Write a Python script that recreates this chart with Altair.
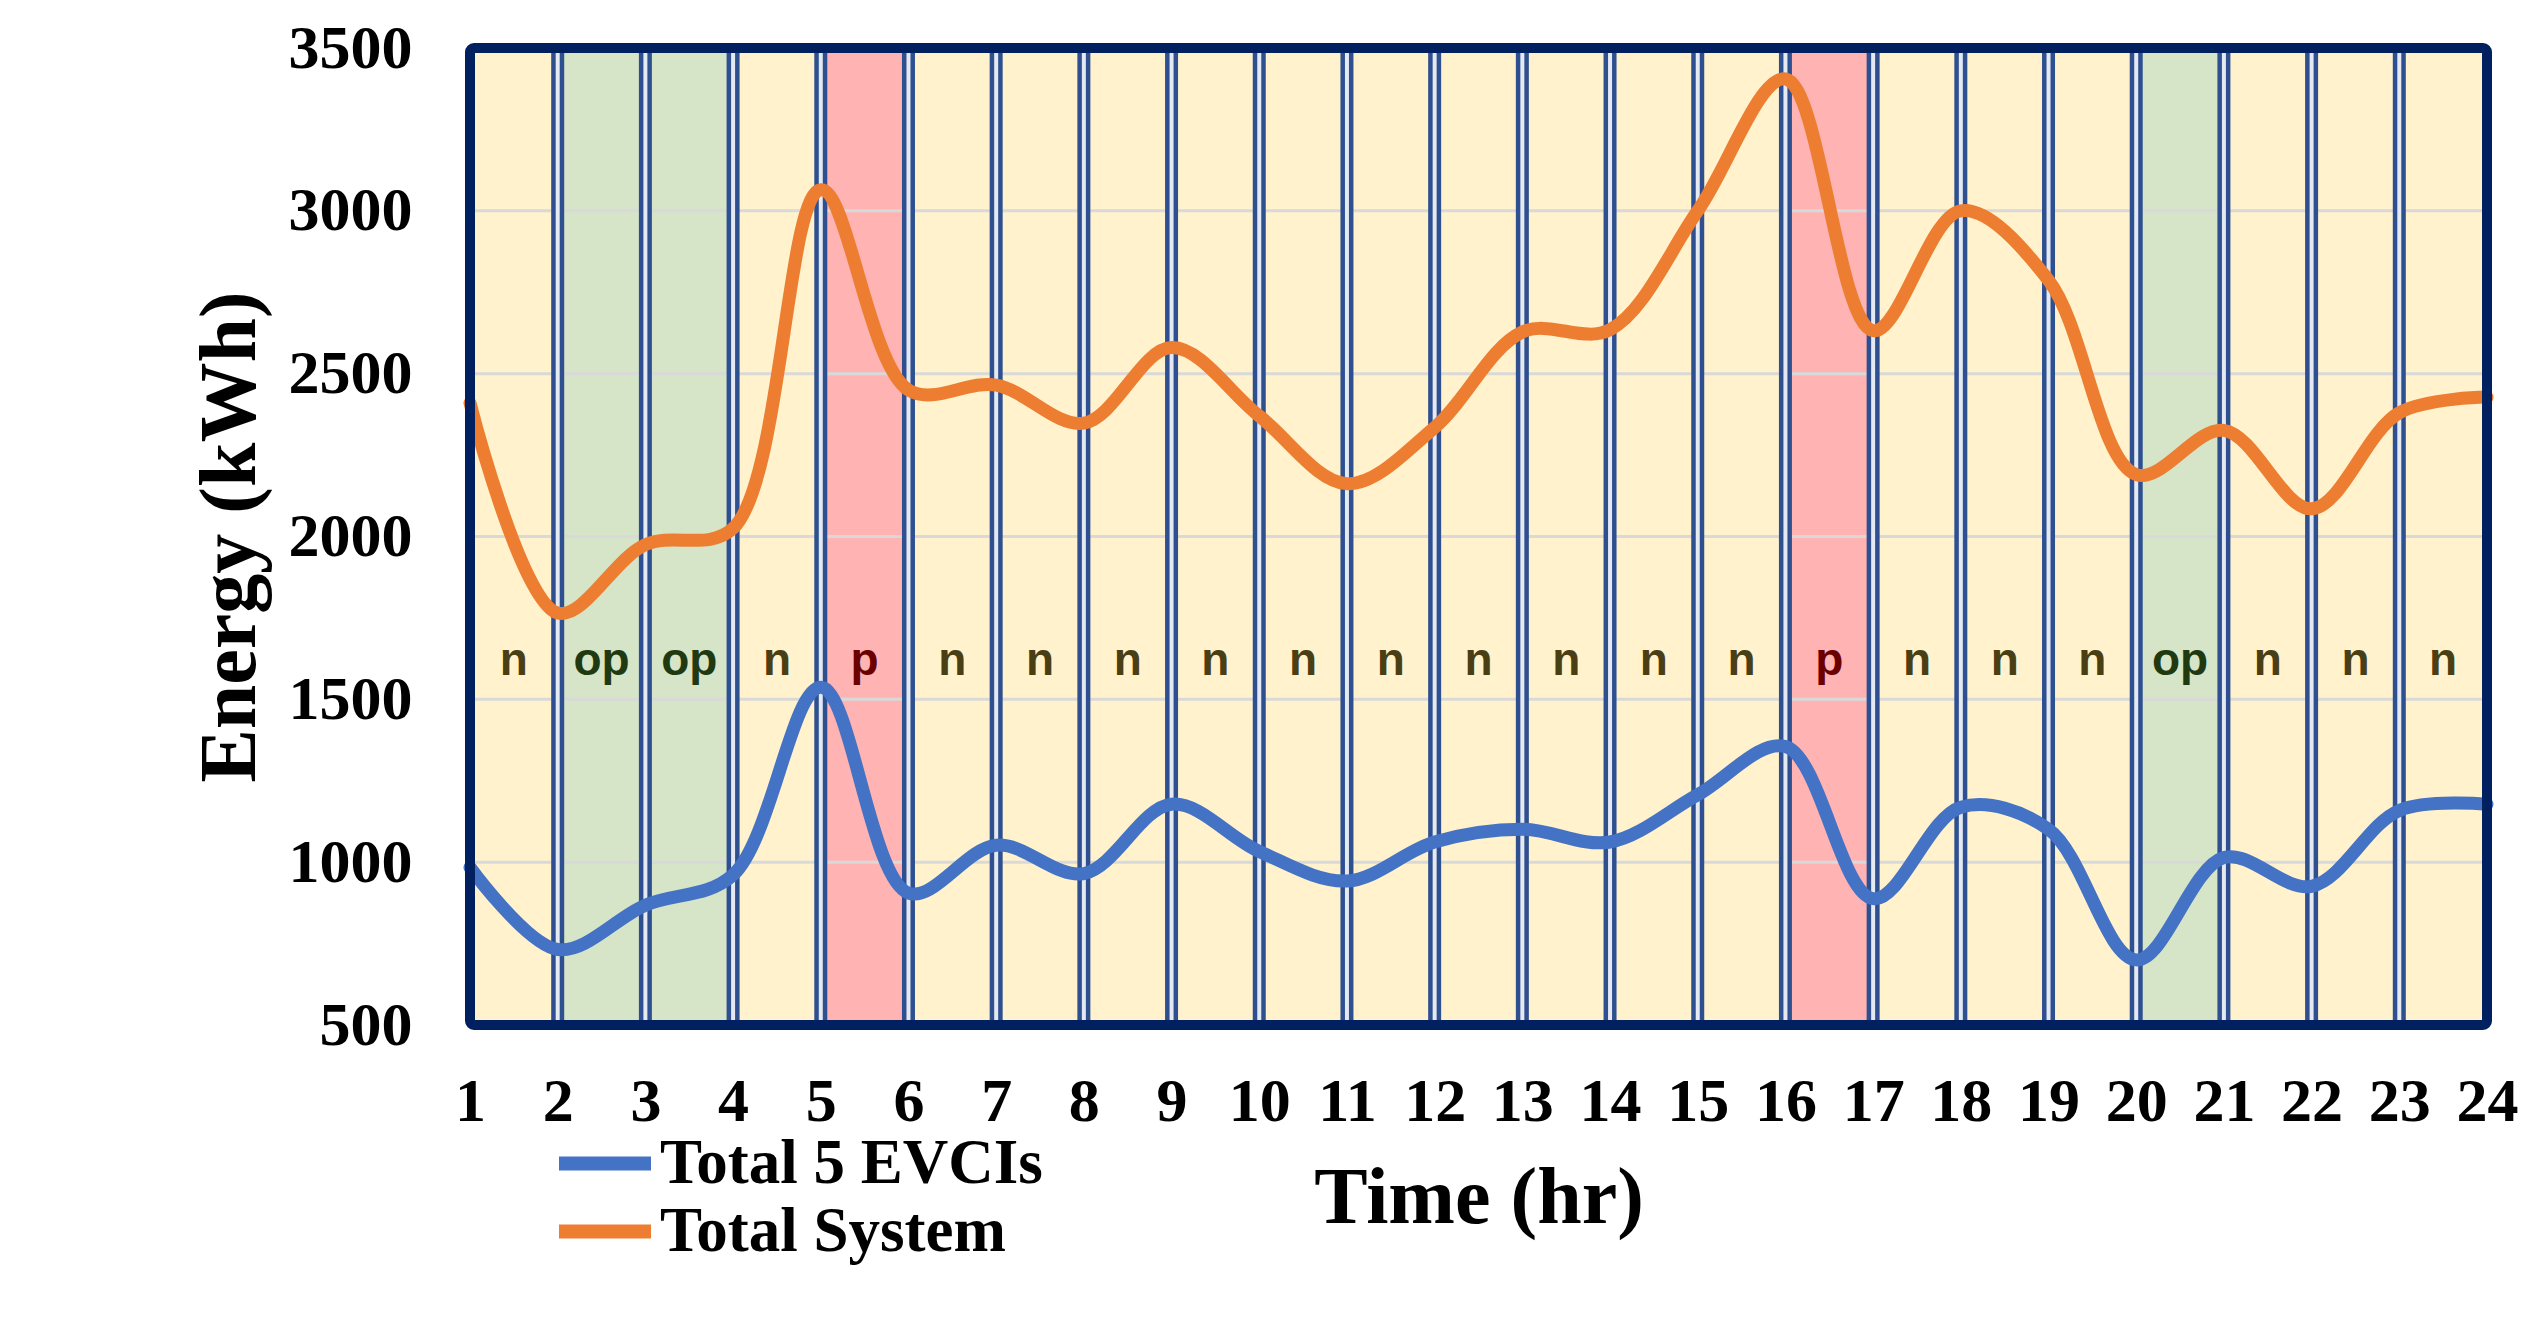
import altair as alt
import pandas as pd

hours = list(range(1, 25))
total_evci = [984, 732, 868, 961, 1537, 905, 1052, 965, 1178, 1033, 942, 1062,
              1101, 1062, 1207, 1355, 888, 1169, 1101, 700, 1014, 926, 1159, 1178]
total_system = [2410, 1765, 1975, 2025, 3065, 2450, 2465, 2348, 2580, 2370, 2162, 2335,
                2628, 2635, 3000, 3405, 2632, 3000, 2787, 2190, 2326, 2085, 2380, 2428]
periods = ["n", "op", "op", "n", "p", "n", "n", "n", "n", "n", "n", "n",
           "n", "n", "n", "p", "n", "n", "n", "op", "n", "n", "n"]
y_ticks = [500, 1000, 1500, 2000, 2500, 3000, 3500]
series_names = ["Total 5 EVCIs", "Total System"]
series_colors = ["#4472C4", "#ED7D31"]
period_kinds = ["n", "op", "p"]
band_fill = ["#FFF2CC", "#D6E4C8", "#FFB3B3"]
label_fill = ["#4A3F14", "#1F3A10", "#6B0000"]

W, H = 2017, 977
SERIF = "Liberation Serif"

bands = pd.DataFrame({"start": hours[:-1], "end": hours[1:], "period": periods})
bands["mid"] = (bands["start"] + bands["end"]) / 2
vlines = pd.DataFrame({"h": hours[1:-1]})
hgrid = pd.DataFrame({"v": y_ticks[1:-1]})
lines = pd.concat([
    pd.DataFrame({"hour": hours, "energy": total_evci, "series": series_names[0]}),
    pd.DataFrame({"hour": hours, "energy": total_system, "series": series_names[1]}),
])
one = pd.DataFrame({"a": [0]})

x_scale = alt.Scale(domain=[hours[0], hours[-1]], nice=False, zero=False)
y_scale = alt.Scale(domain=[y_ticks[0], y_ticks[-1]], nice=False, zero=False)

x_axis = alt.Axis(values=hours, format="d", title="Time (hr)", grid=False, domain=False,
                  ticks=False, labelPadding=95, labelBaseline="alphabetic",
                  labelFlush=False, labelOverlap=False,
                  labelFont=SERIF, labelFontSize=62, labelFontWeight="bold", labelColor="black",
                  titleFont=SERIF, titleFontSize=80, titleFontWeight="bold", titleColor="black",
                  titleX=W / 2, titleY=197, titleBaseline="alphabetic", titleAlign="center")
y_axis = alt.Axis(values=y_ticks, format="d", title="Energy (kWh)", grid=False, domain=False,
                  ticks=False, labelPadding=58, labelFlush=False, labelOverlap=False,
                  labelFont=SERIF, labelFontSize=62, labelFontWeight="bold", labelColor="black",
                  titleFont=SERIF, titleFontSize=80, titleFontWeight="bold", titleColor="black",
                  titleAngle=270, titleX=-240, titleY=H / 2, titleBaseline="middle",
                  titleAlign="center")

def X(field):
    return alt.X(field, type="quantitative", scale=x_scale, axis=x_axis)

def Y(field):
    return alt.Y(field, type="quantitative", scale=y_scale, axis=y_axis)

band_layer = alt.Chart(bands).mark_rect(stroke=None).encode(
    x=X("start"), x2="end",
    y=alt.Y(datum=y_ticks[0], scale=y_scale, axis=y_axis), y2=alt.Y2(datum=y_ticks[-1]),
    fill=alt.Fill("period:N", scale=alt.Scale(domain=period_kinds, range=band_fill), legend=None),
)

grid_layer = alt.Chart(hgrid).mark_rule(color="#D9D9D9", strokeWidth=3).encode(y=Y("v"))

vline_dark = alt.Chart(vlines).mark_rule(color="#2E5090", strokeWidth=13).encode(x=X("h"))
vline_light = alt.Chart(vlines).mark_rule(color="#E4E9F2", strokeWidth=4).encode(x=X("h"))

label_layer = alt.Chart(bands).mark_text(
    font="Liberation Sans", fontSize=46, fontWeight="bold", baseline="alphabetic", align="center"
).encode(
    x=X("mid"),
    y=alt.Y(datum=1575, scale=y_scale, axis=y_axis),
    text="period:N",
    color=alt.Color("period:N", scale=alt.Scale(domain=period_kinds, range=label_fill), legend=None),
)

line_layer = alt.Chart(lines).mark_line(
    interpolate="catmull-rom", strokeWidth=13, strokeCap="round", strokeJoin="round"
).encode(
    x=X("hour"), y=Y("energy"),
    stroke=alt.Stroke("series:N", scale=alt.Scale(domain=series_names, range=series_colors),
                      legend=alt.Legend(orient="none", legendX=82, legendY=1084, title=None,
                                        symbolType="stroke", symbolSize=8464,
                                        symbolStrokeWidth=14, labelOffset=2, rowPadding=4,
                                        clipHeight=63, padding=0, labelFont=SERIF,
                                        labelFontSize=63, labelFontWeight="bold",
                                        labelColor="black", labelLimit=1000)),
    detail="series:N",
)

frame_layer = alt.Chart(one).mark_rect(
    filled=False, stroke="#002060", strokeWidth=10, cornerRadius=4
).encode(
    x=alt.X(datum=hours[0], scale=x_scale, axis=x_axis), x2=alt.X2(datum=hours[-1]),
    y=alt.Y(datum=y_ticks[0], scale=y_scale, axis=y_axis), y2=alt.Y2(datum=y_ticks[-1]),
)

chart = alt.layer(
    band_layer, grid_layer, vline_dark, vline_light, label_layer, line_layer, frame_layer
).properties(
    width=W, height=H,
    autosize=alt.AutoSizeParams(type="none"),
    padding={"left": 462, "top": 40, "right": 40, "bottom": 280},
    background="white",
).configure_view(stroke=None)

chart.save("out.html", embed_options={"renderer": "svg", "actions": False})
